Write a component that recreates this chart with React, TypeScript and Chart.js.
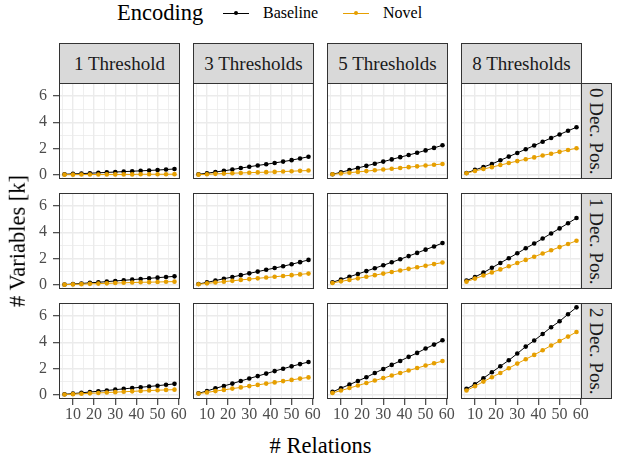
import React, { useEffect, useRef } from "react";
import { Chart, registerables } from "chart.js";

Chart.register(...registerables);

// ---------- data ----------
const RELATIONS = [6, 10, 14, 18, 22, 26, 30, 34, 38, 42, 46, 50, 54, 58];
const THRESHOLD_LABELS = ["1 Threshold", "3 Thresholds", "5 Thresholds", "8 Thresholds"];
const DECIMAL_LABELS = ["0 Dec. Pos.", "1 Dec. Pos.", "2 Dec. Pos."];
const X_TICKS = [5, 10, 15, 20, 25, 30, 35, 40, 45, 50, 55, 60];
const Y_TICKS = [0, 1, 2, 3, 4, 5, 6];

// 0 decimal positions
const base0_1 = [0.05, 0.08, 0.10, 0.13, 0.16, 0.19, 0.22, 0.25, 0.28, 0.31, 0.34, 0.37, 0.41, 0.45];
const nov0_1 = [0.02, 0.02, 0.03, 0.03, 0.03, 0.04, 0.04, 0.04, 0.04, 0.05, 0.05, 0.05, 0.05, 0.06];
const base0_3 = [0.05, 0.13, 0.22, 0.31, 0.41, 0.52, 0.62, 0.72, 0.81, 0.91, 1.01, 1.12, 1.25, 1.38];
const nov0_3 = [0.02, 0.05, 0.08, 0.10, 0.13, 0.15, 0.17, 0.19, 0.21, 0.23, 0.26, 0.28, 0.31, 0.33];
const base0_5 = [0.05, 0.20, 0.37, 0.53, 0.69, 0.85, 1.01, 1.18, 1.35, 1.51, 1.68, 1.86, 2.05, 2.25];
const nov0_5 = [0.05, 0.11, 0.17, 0.23, 0.29, 0.35, 0.41, 0.47, 0.53, 0.59, 0.65, 0.71, 0.77, 0.83];
const base0_8 = [0.15, 0.38, 0.60, 0.83, 1.11, 1.39, 1.67, 1.95, 2.23, 2.52, 2.80, 3.07, 3.35, 3.62];
const nov0_8 = [0.13, 0.30, 0.45, 0.59, 0.75, 0.90, 1.05, 1.19, 1.33, 1.48, 1.61, 1.75, 1.89, 2.03];
// 1 decimal position
const base1_1 = [0.03, 0.07, 0.11, 0.16, 0.20, 0.25, 0.30, 0.35, 0.40, 0.45, 0.50, 0.55, 0.60, 0.65];
const nov1_1 = [0.02, 0.04, 0.06, 0.08, 0.10, 0.12, 0.14, 0.16, 0.18, 0.20, 0.21, 0.22, 0.24, 0.25];
const base1_3 = [0.07, 0.19, 0.33, 0.47, 0.60, 0.74, 0.88, 1.01, 1.15, 1.28, 1.42, 1.57, 1.73, 1.90];
const nov1_3 = [0.05, 0.12, 0.18, 0.25, 0.31, 0.38, 0.44, 0.50, 0.56, 0.62, 0.68, 0.74, 0.80, 0.86];
const base1_5 = [0.20, 0.41, 0.62, 0.83, 1.05, 1.27, 1.49, 1.72, 1.95, 2.19, 2.43, 2.68, 2.92, 3.18];
const nov1_5 = [0.15, 0.27, 0.38, 0.50, 0.62, 0.74, 0.86, 0.98, 1.10, 1.22, 1.34, 1.46, 1.58, 1.70];
const base1_8 = [0.33, 0.60, 0.93, 1.30, 1.67, 2.03, 2.40, 2.78, 3.14, 3.52, 3.91, 4.29, 4.68, 5.08];
const nov1_8 = [0.25, 0.48, 0.71, 0.95, 1.18, 1.42, 1.66, 1.90, 2.14, 2.39, 2.63, 2.87, 3.11, 3.35];
// 2 decimal positions
const base2_1 = [0.05, 0.10, 0.16, 0.22, 0.28, 0.34, 0.40, 0.46, 0.52, 0.58, 0.64, 0.70, 0.77, 0.84];
const nov2_1 = [0.03, 0.06, 0.09, 0.12, 0.15, 0.18, 0.21, 0.24, 0.27, 0.30, 0.33, 0.36, 0.38, 0.40];
const base2_3 = [0.12, 0.30, 0.50, 0.68, 0.86, 1.06, 1.25, 1.43, 1.62, 1.81, 1.99, 2.17, 2.34, 2.50];
const nov2_3 = [0.10, 0.19, 0.29, 0.38, 0.48, 0.57, 0.67, 0.76, 0.86, 0.95, 1.05, 1.14, 1.24, 1.33];
const base2_5 = [0.23, 0.51, 0.78, 1.06, 1.34, 1.66, 1.97, 2.28, 2.58, 2.89, 3.19, 3.52, 3.82, 4.15];
const nov2_5 = [0.15, 0.33, 0.52, 0.71, 0.90, 1.09, 1.28, 1.47, 1.66, 1.85, 2.04, 2.23, 2.40, 2.57];
const base2_8 = [0.46, 0.81, 1.27, 1.72, 2.18, 2.63, 3.14, 3.67, 4.13, 4.63, 5.14, 5.59, 6.13, 6.65];
const nov2_8 = [0.33, 0.66, 1.01, 1.34, 1.67, 2.03, 2.38, 2.71, 3.04, 3.39, 3.75, 4.10, 4.43, 4.78];

const BASELINE = [
  [base0_1, base0_3, base0_5, base0_8],
  [base1_1, base1_3, base1_5, base1_8],
  [base2_1, base2_3, base2_5, base2_8],
];
const NOVEL = [
  [nov0_1, nov0_3, nov0_5, nov0_8],
  [nov1_1, nov1_3, nov1_5, nov1_8],
  [nov2_1, nov2_3, nov2_5, nov2_8],
];

// ---------- layout / style ----------
const FONT = "'Liberation Serif', 'DejaVu Serif', serif";
const BLACK = "#000000";
const ORANGE = "#E69F00";
const COL_X = [59, 193, 327, 461];
const ROW_Y = [83, 193, 303];
const PW = 121;
const PH = 96;
const LW = 45;
const BH = 30;
const RW = 12;
const X_MIN = 3.4;
const X_MAX = 60.6;
const Y_MIN = -0.31;
const Y_MAX = 6.98;

const panelBorder = {
  id: "panelBorder",
  afterDraw(chart: any) {
    const { ctx, chartArea: a } = chart;
    ctx.save();
    ctx.strokeStyle = "#333333";
    ctx.lineWidth = 1;
    ctx.strokeRect(a.left + 0.5, a.top + 0.5, a.right - a.left - 1, a.bottom - a.top - 1);
    ctx.restore();
  },
};

function Panel({ row, col }: { row: number; col: number }) {
  const ref = useRef<HTMLCanvasElement>(null);
  const isLeft = col === 0;
  const isBottom = row === 2;
  const extraR = isBottom ? RW : 0;
  const w = PW + (isLeft ? LW : 0) + extraR;
  const h = PH + (isBottom ? BH : 0);

  useEffect(() => {
    const mk = (label: string, values: number[], color: string) => ({
      label,
      data: RELATIONS.map((x, i) => ({ x, y: values[i] })),
      borderColor: color,
      backgroundColor: color,
      pointBackgroundColor: color,
      borderWidth: 1,
      pointRadius: 2.3,
      pointHoverRadius: 2.3,
      pointBorderWidth: 0,
      tension: 0,
    });
    const chart = new Chart(ref.current as HTMLCanvasElement, {
      type: "line",
      data: {
        datasets: [
          mk("Novel", NOVEL[row][col], ORANGE),
          mk("Baseline", BASELINE[row][col], BLACK),
        ] as any,
      },
      options: {
        animation: false,
        responsive: false,
        events: [],
        layout: { padding: { left: 0, top: 0, bottom: 0, right: extraR }, autoPadding: false },
        plugins: {
          legend: { display: false },
          tooltip: { enabled: false },
          title: { display: false },
        },
        scales: {
          x: {
            type: "linear",
            min: X_MIN,
            max: X_MAX,
            afterBuildTicks: (a: any) => {
              a.ticks = X_TICKS.map((v) => ({ value: v }));
            },
            afterFit: (s: any) => {
              s.height = isBottom ? BH : 0;
              s.paddingLeft = 0;
              s.paddingRight = 0;
            },
            border: { display: false },
            grid: {
              drawTicks: isBottom,
              tickLength: 6,
              color: "#EBEBEB",
              lineWidth: (c: any) => (c.tick && c.tick.value % 10 === 0 ? 1.4 : 0.8),
              tickColor: (c: any) =>
                c.tick && c.tick.value % 10 === 0 ? "#333333" : "rgba(0,0,0,0)",
              tickWidth: 1.1,
            },
            ticks: {
              display: isBottom,
              autoSkip: false,
              maxRotation: 0,
              padding: 0,
              color: "#4D4D4D",
              font: { family: FONT, size: 16 },
              callback: (v: any) => (Number(v) % 10 === 0 ? String(v) : ""),
            },
          },
          y: {
            type: "linear",
            min: Y_MIN,
            max: Y_MAX,
            afterBuildTicks: (a: any) => {
              a.ticks = Y_TICKS.map((v) => ({ value: v }));
            },
            afterFit: (s: any) => {
              s.width = isLeft ? LW : 0;
              s.paddingTop = 0;
              s.paddingBottom = 0;
            },
            border: { display: false },
            grid: {
              drawTicks: isLeft,
              tickLength: 6,
              color: "#EBEBEB",
              lineWidth: (c: any) => (c.tick && c.tick.value % 2 === 0 ? 1.4 : 0.8),
              tickColor: (c: any) =>
                c.tick && c.tick.value % 2 === 0 ? "#333333" : "rgba(0,0,0,0)",
              tickWidth: 1.1,
            },
            ticks: {
              display: isLeft,
              autoSkip: false,
              padding: 6,
              color: "#4D4D4D",
              font: { family: FONT, size: 16 },
              callback: (v: any) => (Number(v) % 2 === 0 ? String(v) : ""),
            },
          },
        },
      } as any,
      plugins: [panelBorder],
    });
    return () => chart.destroy();
  }, [row, col]);

  return (
    <canvas
      ref={ref}
      width={w}
      height={h}
      style={{
        position: "absolute",
        left: COL_X[col] - (isLeft ? LW : 0),
        top: ROW_Y[row],
        width: w,
        height: h,
      }}
    />
  );
}

function LegendKey({ left, color }: { left: number; color: string }) {
  return (
    <div style={{ position: "absolute", left, top: 13, width: 26, height: 0 }}>
      <div style={{ position: "absolute", left: 0, top: -0.5, width: 26, height: 1, background: color }} />
      <div
        style={{
          position: "absolute",
          left: 13 - 2.3,
          top: -2.3,
          width: 4.6,
          height: 4.6,
          borderRadius: "50%",
          background: color,
        }}
      />
    </div>
  );
}

export default function App() {
  const panels: React.ReactNode[] = [];
  for (let r = 0; r < 3; r++) {
    for (let c = 0; c < 4; c++) {
      panels.push(<Panel key={`${r}-${c}`} row={r} col={c} />);
    }
  }
  const text = (style: React.CSSProperties, content: string) => (
    <div
      style={{
        position: "absolute",
        fontFamily: FONT,
        whiteSpace: "nowrap",
        lineHeight: 1,
        ...style,
      }}
    >
      {content}
    </div>
  );
  return (
    <div
      style={{
        position: "fixed",
        left: 0,
        top: 0,
        width: 617,
        height: 460,
        background: "#FFFFFF",
        overflow: "hidden",
        fontFamily: FONT,
      }}
    >
      {/* legend */}
      {text({ left: 117, top: 13, transform: "translateY(-50%)", fontSize: 22.5, color: "#000" }, "Encoding")}
      <LegendKey left={223} color={BLACK} />
      {text({ left: 263, top: 13, transform: "translateY(-50%)", fontSize: 16, color: "#000" }, "Baseline")}
      <LegendKey left={343} color={ORANGE} />
      {text({ left: 383, top: 13, transform: "translateY(-50%)", fontSize: 16, color: "#000" }, "Novel")}

      {/* top strips */}
      {THRESHOLD_LABELS.map((lab, c) => (
        <div
          key={lab}
          style={{
            position: "absolute",
            left: COL_X[c],
            top: 43,
            width: PW,
            height: 41,
            boxSizing: "border-box",
            border: "1px solid #333333",
            background: "#D9D9D9",
            display: "flex",
            alignItems: "center",
            justifyContent: "center",
            fontFamily: FONT,
            fontSize: 19,
            color: "#1A1A1A",
            whiteSpace: "nowrap",
          }}
        >
          {lab}
        </div>
      ))}

      {/* right strips */}
      {DECIMAL_LABELS.map((lab, r) => (
        <div
          key={lab}
          style={{
            position: "absolute",
            left: COL_X[3] + PW - 1,
            top: ROW_Y[r],
            width: 31,
            height: PH,
            boxSizing: "border-box",
            border: "1px solid #333333",
            background: "#D9D9D9",
            display: "flex",
            alignItems: "center",
            justifyContent: "center",
            fontFamily: FONT,
            fontSize: 19,
            color: "#1A1A1A",
          }}
        >
          <span style={{ writingMode: "vertical-rl", whiteSpace: "nowrap", lineHeight: 1 }}>{lab}</span>
        </div>
      ))}

      {panels}

      {/* axis titles */}
      {text(
        {
          left: 18,
          top: 241,
          transform: "translate(-50%, -50%) rotate(-90deg)",
          fontSize: 22.5,
          color: "#000",
        },
        "# Variables [k]"
      )}
      {text(
        { left: 320.5, top: 446, transform: "translate(-50%, -50%)", fontSize: 22.5, color: "#000" },
        "# Relations"
      )}
    </div>
  );
}
